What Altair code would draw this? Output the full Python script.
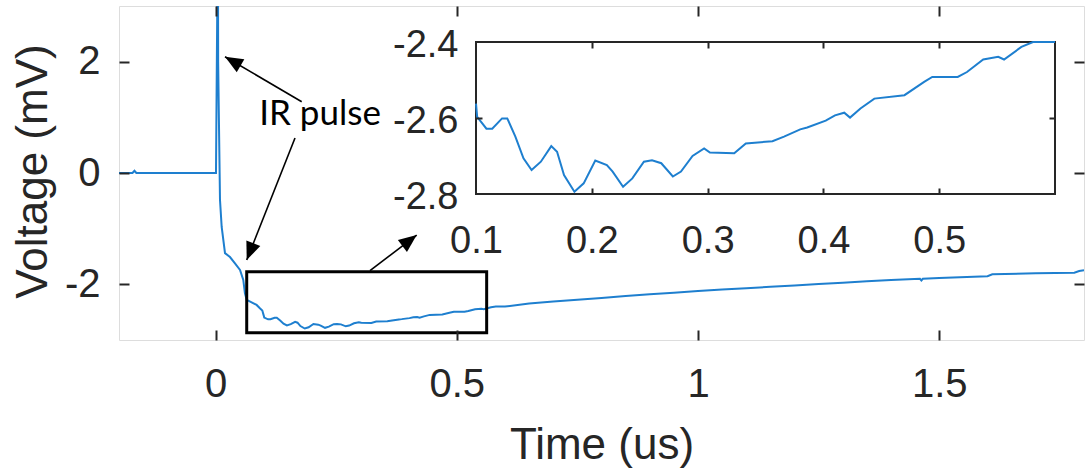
import math
import altair as alt
import pandas as pd

# ---------------- data ----------------
time_us = [-0.2, -0.172, -0.168, -0.164, 0.001, 0.005, 0.0055, 0.007, 0.0093, 0.0128,
           0.0197, 0.030, 0.040, 0.0508, 0.0576, 0.061, 0.0647, 0.0852, 0.092, 0.097,
           0.100, 0.101, 0.109, 0.114, 0.1225, 0.127, 0.134, 0.141, 0.148, 0.156,
           0.165, 0.170, 0.176, 0.185, 0.193, 0.203, 0.213, 0.218, 0.227, 0.235,
           0.245, 0.252, 0.260, 0.270, 0.277, 0.287, 0.297, 0.302, 0.323, 0.333,
           0.356, 0.366, 0.380, 0.386, 0.402, 0.410, 0.418, 0.423, 0.432, 0.444,
           0.470, 0.487, 0.494, 0.516, 0.524, 0.538, 0.551, 0.556, 0.571, 0.581,
           0.600, 0.65, 0.70, 0.75, 0.80, 0.85, 0.90, 0.95, 1.00, 1.05,
           1.10, 1.15, 1.20, 1.25, 1.30, 1.35, 1.40, 1.460, 1.463, 1.466,
           1.50, 1.60, 1.61, 1.70, 1.78, 1.79, 1.80]
voltage_mv = [0.0, 0.0, 0.04, 0.0, 0.0, 4.5, 2.0, 1.0, -0.48, -0.97,
              -1.44, -1.51, -1.62, -1.74, -1.92, -2.16, -2.28, -2.37, -2.43, -2.47,
              -2.562, -2.597, -2.628, -2.628, -2.601, -2.601, -2.649, -2.706, -2.737, -2.715,
              -2.674, -2.689, -2.750, -2.794, -2.772, -2.712, -2.724, -2.741, -2.781, -2.759,
              -2.715, -2.711, -2.719, -2.754, -2.741, -2.700, -2.680, -2.691, -2.693, -2.667,
              -2.661, -2.649, -2.630, -2.625, -2.607, -2.593, -2.586, -2.599, -2.575, -2.549,
              -2.540, -2.505, -2.492, -2.492, -2.479, -2.446, -2.439, -2.446, -2.413, -2.400,
              -2.400, -2.345, -2.31, -2.275, -2.245, -2.21, -2.18, -2.15, -2.12, -2.095,
              -2.07, -2.045, -2.02, -1.995, -1.97, -1.945, -1.92, -1.90, -1.93, -1.90,
              -1.885, -1.855, -1.82, -1.80, -1.79, -1.76, -1.745]

main_x_ticks = [0, 0.5, 1, 1.5]
main_y_ticks = [-2, 0, 2]
inset_x_ticks = [0.1, 0.2, 0.3, 0.4, 0.5]
inset_y_ticks = [-2.8, -2.6, -2.4]

# annotation arrows (start -> tip), in main-axis data units
arrow_t0 = [0.1787, 0.1648, 0.3202]
arrow_v0 = [1.281, 0.629, -1.755]
arrow_t1 = [0.0197, 0.0647, 0.417]
arrow_v1 = [2.089, -1.563, -1.114]

zoom_box_t = [0.0647, 0.562]
zoom_box_v = [-2.869, -1.773]

label_text = ["IR pulse"]
label_t = [0.2166]
label_v = [0.862]

# ---------------- layout / style ----------------
W, H = 965, 334
X_DOM = [-0.2, 1.8]
Y_DOM = [-3, 3]
INSET_X_DOM = [0.1, 0.6]
INSET_Y_DOM = [-2.8, -2.4]
INSET_X_RANGE = [357, 936]
INSET_Y_RANGE = [188, 36]
BLUE = "#1E7FCF"
AXC = "#262626"
FONT = "Liberation Sans"
HEAD = "M0,0L0.833,2L-0.833,2Z"

df = pd.DataFrame({"t": time_us, "v": voltage_mv})

px_t = W / (X_DOM[1] - X_DOM[0])
px_v = H / (Y_DOM[1] - Y_DOM[0])
angles = []
for a, b, c, d in zip(arrow_t0, arrow_v0, arrow_t1, arrow_v1):
    dx = (c - a) * px_t
    dy = -(d - b) * px_v
    angles.append((math.degrees(math.atan2(dx, -dy)) + 360) % 360)
arrows = pd.DataFrame({"t0": arrow_t0, "v0": arrow_v0, "t1": arrow_t1,
                       "v1": arrow_v1, "ang": angles})
box = pd.DataFrame({"t0": [zoom_box_t[0]], "t1": [zoom_box_t[1]],
                    "v0": [zoom_box_v[0]], "v1": [zoom_box_v[1]]})
labels = pd.DataFrame({"txt": label_text, "t": label_t, "v": label_v})
inset_frame = pd.DataFrame({"t0": [INSET_X_DOM[0]], "t1": [INSET_X_DOM[1]],
                            "v0": [INSET_Y_DOM[0]], "v1": [INSET_Y_DOM[1]]})

xs = alt.Scale(domain=X_DOM, nice=False, zero=False)
ys = alt.Scale(domain=Y_DOM, nice=False, zero=False)
ixs = alt.Scale(domain=INSET_X_DOM, range=INSET_X_RANGE, nice=False, zero=False)
iys = alt.Scale(domain=INSET_Y_DOM, range=INSET_Y_RANGE, nice=False, zero=False, clamp=True)


def tick_axis(orient, offset, values, size):
    # negative size (as an expression) draws the ticks inward
    ts = {"expr": str(size)} if size < 0 else size
    return alt.Axis(orient=orient, offset=offset, values=values, labels=False,
                    ticks=True, tickSize=ts, tickColor=AXC, tickWidth=2,
                    domain=False, grid=False, title=None, zindex=2)


def label_axis(orient, offset, values, size, pad, **kw):
    return alt.Axis(orient=orient, offset=offset, values=values, ticks=False,
                    domain=False, grid=False, labelFlush=False, labelOverlap=False,
                    labelExpr="toString(datum.value)", labelFontSize=size,
                    labelFont=FONT, labelColor=AXC, labelPadding=pad, zindex=2, **kw)


# ---------------- main panel ----------------
main_line = alt.Chart(df).mark_line(color=BLUE, strokeWidth=2, clip=True).encode(
    x=alt.X("t:Q", scale=xs, axis=label_axis(
        "bottom", 0, main_x_ticks, 40, 56, labelBaseline="alphabetic",
        title="Time (us)", titleFontSize=44, titleFont=FONT, titleColor=AXC,
        titleFontWeight="normal", titleX=W / 2, titleY=118, titleAlign="center",
        titleBaseline="alphabetic")),
    y=alt.Y("v:Q", scale=ys, axis=label_axis(
        "left", 0, main_y_ticks, 40, 19, labelBaseline="middle", labelAlign="right",
        title="Voltage (mV)", titleFontSize=44, titleFont=FONT, titleColor=AXC,
        titleFontWeight="normal", titleAngle=270, titleX=-86, titleY=165,
        titleAlign="center", titleBaseline="middle")),
)

# inward ticks on the bottom and left edges
ticks_a = alt.Chart(df).mark_point(opacity=0).encode(
    x=alt.X("t:Q", scale=xs, axis=tick_axis("bottom", 0, main_x_ticks, -10)),
    y=alt.Y("v:Q", scale=ys, axis=tick_axis("left", 0, main_y_ticks, -10)),
)
# inward ticks on the top and right edges (box on)
ticks_b = alt.Chart(df).mark_point(opacity=0).encode(
    x=alt.X("t:Q", scale=xs, axis=tick_axis("bottom", -H, main_x_ticks, 10)),
    y=alt.Y("v:Q", scale=ys, axis=tick_axis("left", -W, main_y_ticks, 10)),
)

zoom_rect = alt.Chart(box).mark_rect(fillOpacity=0, stroke="black", strokeWidth=3).encode(
    x=alt.X("t0:Q", scale=xs, axis=None), x2="t1:Q",
    y=alt.Y("v0:Q", scale=ys, axis=None), y2="v1:Q",
)
arrow_lines = alt.Chart(arrows).mark_rule(color="black", strokeWidth=1.6).encode(
    x=alt.X("t0:Q", scale=xs, axis=None), x2="t1:Q",
    y=alt.Y("v0:Q", scale=ys, axis=None), y2="v1:Q",
)
arrow_heads = alt.Chart(arrows).mark_point(
    shape=HEAD, filled=True, color="black", size=324, opacity=1, strokeWidth=0
).encode(
    x=alt.X("t1:Q", scale=xs, axis=None),
    y=alt.Y("v1:Q", scale=ys, axis=None),
    angle=alt.Angle("ang:Q", scale=None),
)
ir_text = alt.Chart(labels).mark_text(
    font="Lato", fontSize=35, color="black", align="center", baseline="alphabetic"
).encode(
    x=alt.X("t:Q", scale=xs, axis=None),
    y=alt.Y("v:Q", scale=ys, axis=None),
    text="txt:N",
)

main_group = alt.layer(main_line, ticks_a, ticks_b, zoom_rect, arrow_lines,
                       arrow_heads, ir_text).resolve_axis(x="independent", y="independent")

# ---------------- inset panel ----------------
frame = alt.Chart(inset_frame).mark_rect(fill="white", stroke=AXC, strokeWidth=2).encode(
    x=alt.X("t0:Q", scale=ixs,
            axis=tick_axis("bottom", INSET_Y_RANGE[0] - H, inset_x_ticks[1:], -6)),
    x2="t1:Q",
    y=alt.Y("v0:Q", scale=iys,
            axis=tick_axis("left", -INSET_X_RANGE[0], inset_y_ticks[1:2], -6)),
    y2="v1:Q",
)
inset_line = alt.Chart(df).transform_filter(
    (alt.datum.t >= INSET_X_DOM[0]) & (alt.datum.t <= INSET_X_DOM[1])
).mark_line(color=BLUE, strokeWidth=2).encode(
    x=alt.X("t:Q", scale=ixs, axis=label_axis(
        "bottom", INSET_Y_RANGE[0] - H, inset_x_ticks, 38, 58,
        labelBaseline="alphabetic", title=None)),
    y=alt.Y("v:Q", scale=iys, axis=label_axis(
        "left", -INSET_X_RANGE[0], inset_y_ticks, 38, 18,
        labelBaseline="middle", labelAlign="right", labelOffset=3, title=None)),
)
inset_ticks = alt.Chart(inset_frame).mark_point(opacity=0).encode(
    x=alt.X("t0:Q", scale=ixs,
            axis=tick_axis("bottom", INSET_Y_RANGE[1] - H, inset_x_ticks[1:], 6)),
    y=alt.Y("v0:Q", scale=iys,
            axis=tick_axis("left", -INSET_X_RANGE[1], inset_y_ticks[1:2], 6)),
)
inset_group = alt.layer(frame, inset_line, inset_ticks).resolve_axis(
    x="independent", y="independent")

chart = alt.layer(main_group, inset_group).resolve_scale(
    x="independent", y="independent"
).properties(
    width=W, height=H,
    autosize=alt.AutoSizeParams(type="none"),
    padding={"left": 119, "top": 6, "right": 2, "bottom": 131},
).configure_view(stroke="#3a3a3a", strokeWidth=2).configure(background="white")

chart.save("out.html", embed_options={"renderer": "svg", "actions": False})
